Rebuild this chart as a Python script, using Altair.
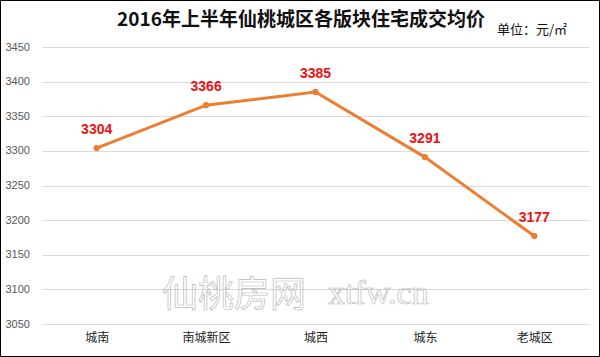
import altair as alt
import pandas as pd

categories = ["城南", "南城新区", "城西", "城东", "老城区"]
prices = [3304, 3366, 3385, 3291, 3177]
y_ticks = [3050, 3100, 3150, 3200, 3250, 3300, 3350, 3400, 3450]

df = pd.DataFrame({"区域": categories, "均价": prices})

W, H = 547, 277
FONT = "Noto Sans CJK SC"

x_enc = alt.X("区域:N", sort=categories, title=None,
              scale=alt.Scale(type="point", padding=0.5),
              axis=alt.Axis(labelAngle=0, labelFontSize=12, labelColor="#222222",
                            labelFont=FONT, ticks=False, domain=False, labelPadding=8,
                            grid=False))
y_enc = alt.Y("均价:Q", title=None,
              scale=alt.Scale(domain=[3050, 3450], nice=False, zero=False),
              axis=alt.Axis(values=y_ticks, format="d", labelFontSize=11,
                            labelColor="#595959", labelFont="Liberation Sans",
                            ticks=False, domain=False, labelPadding=37,
                            gridColor="#d9d9d9", gridWidth=1, labelAlign="left"))

base = alt.Chart(df).encode(x=x_enc, y=y_enc)

line = base.mark_line(color="#ED7D31", strokeWidth=3)
pts = base.mark_point(filled=True, color="#ED7D31", size=40, opacity=1)
labels = base.mark_text(dy=-18, color="#EE1111", fontWeight="bold", fontSize=14,
                        font="Liberation Sans").encode(text="均价:Q")

anno = pd.DataFrame({"t": [0]})
title = alt.Chart(anno).mark_text(text="2016年上半年仙桃城区各版块住宅成交均价", font=FONT,
                                  fontSize=19, fontWeight="bold", color="#111111",
                                  baseline="middle", align="center").encode(
    x=alt.value(301 - 42), y=alt.value(20 - 47))
unit = alt.Chart(anno).mark_text(text="单位：元/㎡", font=FONT, fontSize=13,
                                 color="#111111", baseline="middle", align="left").encode(
    x=alt.value(497 - 42), y=alt.value(30 - 47))
wm1 = alt.Chart(anno).mark_text(text="仙桃房网", font=FONT, fontSize=36, fill="white",
                                fillOpacity=0, stroke="#bbbbbb", strokeWidth=0.7,
                                baseline="middle", align="left").encode(
    x=alt.value(162 - 42), y=alt.value(296 - 47))
wm2 = alt.Chart(anno).mark_text(text="xtfw.cn", font="Liberation Serif", fontSize=34,
                                fill="white", fillOpacity=0, stroke="#bbbbbb",
                                strokeWidth=0.7, baseline="middle", align="left").encode(
    x=alt.value(328 - 42), y=alt.value(294 - 47))
border = alt.Chart(anno).mark_rect(fill="white", fillOpacity=0, stroke="#000000",
                                   strokeWidth=1).encode(
    x=alt.value(-41.5), x2=alt.value(600 - 42 - 0.5),
    y=alt.value(-46.5), y2=alt.value(357 - 47 - 0.5))

chart = alt.layer(wm1, wm2, line, pts, labels, title, unit, border).properties(
    width=W, height=H,
    autosize=alt.AutoSizeParams(type="none"),
    padding={"left": 42, "top": 47, "right": 11, "bottom": 33},
    background="white",
).configure_view(stroke=None)

chart.save("out.html", embed_options={"renderer": "svg", "actions": False})
